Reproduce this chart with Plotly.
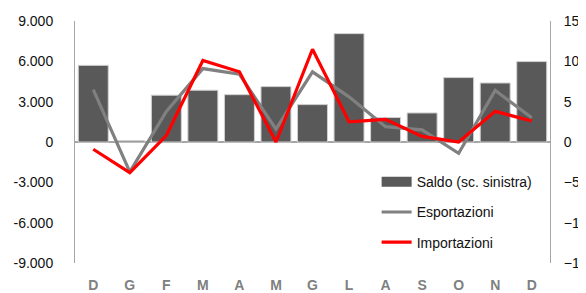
import plotly.graph_objects as go

months = ["D", "G", "F", "M", "A", "M", "G", "L", "A", "S", "O", "N", "D"]
saldo = [5700, 100, 3480, 3850, 3520, 4120, 2780, 8060, 1820, 2160, 4790, 4390, 5980]
esportazioni = [6.5, -3.7, 3.8, 9.1, 8.4, 1.6, 8.7, 5.6, 1.9, 1.5, -1.4, 6.4, 3.0]
importazioni = [-0.9, -3.8, 0.8, 10.1, 8.7, 0.0, 11.5, 2.5, 2.8, 0.7, 0.0, 3.8, 2.6]

left_ticks = [-9000, -6000, -3000, 0, 3000, 6000, 9000]
left_labels = ["-9.000", "-6.000", "-3.000", "0", "3.000", "6.000", "9.000"]
right_ticks = [-15, -10, -5, 0, 5, 10, 15]

x = list(range(len(months)))

fig = go.Figure()
fig.add_trace(go.Bar(
    x=x, y=saldo, name="Saldo (sc. sinistra)", showlegend=False,
    marker=dict(color="#595959", line=dict(color="#d0d0d0", width=1)),
    width=0.82, yaxis="y"))
# legend entry for the bars (wide swatch like the original)
fig.add_trace(go.Scatter(
    x=[None], y=[None], name="Saldo (sc. sinistra)", legendgroup="a", mode="lines",
    line=dict(color="#595959", width=10), yaxis="y"))
fig.add_trace(go.Scatter(
    x=x, y=esportazioni, name="Esportazioni", legendgroup="b", mode="lines",
    line=dict(color="#808080", width=3.2), yaxis="y2"))
fig.add_trace(go.Scatter(
    x=x, y=importazioni, name="Importazioni", legendgroup="c", mode="lines",
    line=dict(color="#ff0000", width=3.2), yaxis="y2"))

axis_col = "#a6a6a6"
# page body has an 8px margin: figure starts at (8, 8) in the window
fig.update_layout(
    width=578, height=285,
    margin=dict(l=67, r=36, t=13, b=30, autoexpand=False),
    paper_bgcolor="white", plot_bgcolor="white",
    font=dict(family="Liberation Sans, Arial, sans-serif", size=14, color="#111111"),
    showlegend=True,
    legend=dict(x=0.635, y=0.40, xanchor="left", yanchor="top",
                bgcolor="rgba(0,0,0,0)", tracegroupgap=9,
                font=dict(size=14, color="#111111")),
    xaxis=dict(range=[-0.5, 12.5], tickvals=x, ticktext=months, showgrid=False,
               showline=False, zeroline=False, ticks="", automargin=False,
               tickfont=dict(size=14, color="#808080",
                             family="Liberation Sans, Arial, sans-serif", weight="bold"),
               ticklabelstandoff=12),
    yaxis=dict(range=[-9000, 9000], tickvals=left_ticks, ticktext=left_labels,
               showgrid=False, showline=True, linecolor=axis_col, linewidth=1,
               zeroline=True, zerolinecolor=axis_col, zerolinewidth=1.5,
               ticks="", ticklabelstandoff=18, automargin=False),
    yaxis2=dict(range=[-15, 15], tickvals=right_ticks, overlaying="y", side="right",
                showgrid=False, showline=True, linecolor=axis_col, linewidth=1,
                zeroline=False, ticks="", ticklabelstandoff=10, automargin=False),
    bargap=0.18,
)

fig.write_html("out.html")
